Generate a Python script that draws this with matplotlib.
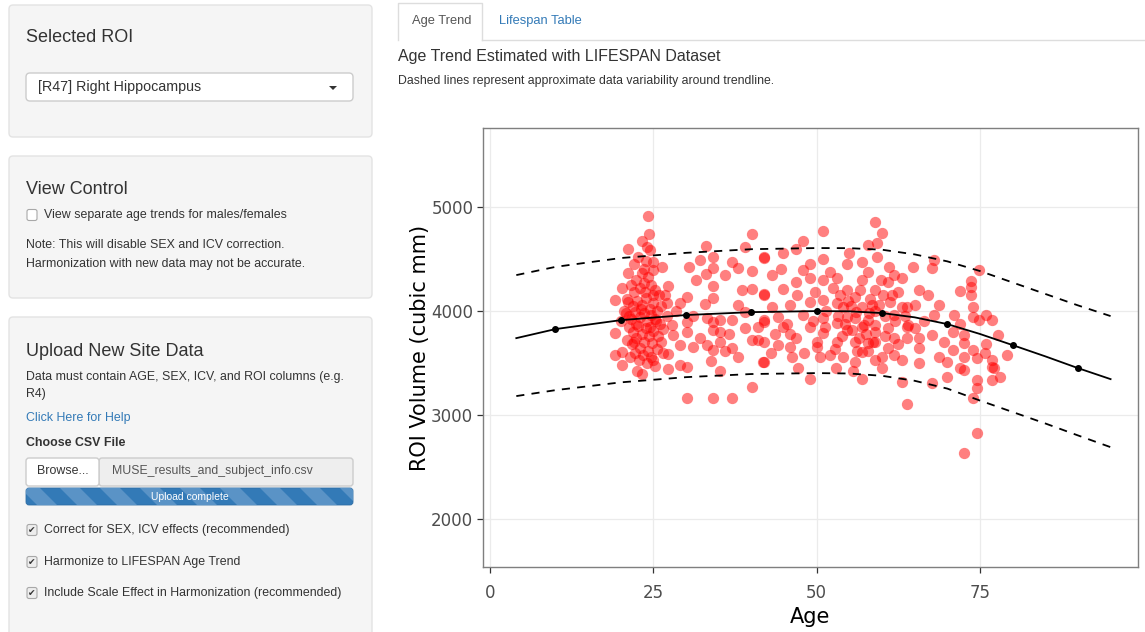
import matplotlib
matplotlib.use('Agg')
import matplotlib.pyplot as plt
from matplotlib.patches import FancyBboxPatch, Polygon

# --- data ---
# scatter: age / ROI volume, split by age band
age_20s = [24.2, 24.3, 23.2, 21.1, 24.5, 24.9, 21.1, 23.2, 20.2, 19.1, 21.1, 19.1, 19.1, 20.2, 20.2,
           23.2, 24.9, 25.0, 26.3,
           21.5, 22.0, 22.4, 23.0, 23.6, 24.1, 24.6, 25.2, 25.8,
           21.0, 21.8, 22.5, 23.3, 23.9, 24.4, 25.0, 25.6, 26.2,
           20.8, 21.6, 22.2, 22.9, 23.5, 24.0, 24.7, 25.3, 26.0,
           21.2, 21.9, 22.6, 23.2, 23.8, 24.3, 25.0, 25.7,
           20.9, 21.7, 22.3, 23.0, 23.6, 24.2, 24.8, 25.5, 26.1,
           21.4, 22.1, 22.8, 23.4, 24.0, 24.6, 25.2,
           22.0, 22.7, 23.8, 24.0, 23.5, 20.5, 20.0, 26.5, 27.0, 22.5,
           23.1, 24.5, 22.4, 25.4, 21.3, 23.7, 24.9, 22.0]
vol_20s = [4913, 4740, 4673, 4596, 4587, 4471, 4365, 4365, 4221, 4106, 4087, 3788, 3577, 3606, 3481,
           3394, 3529, 4394, 4423,
           4250, 4180, 4300, 4220, 4270, 4330, 4250, 4200, 4150,
           4120, 4050, 4100, 4060, 4130, 4020, 4080, 4000, 4050,
           3980, 3920, 3990, 3940, 3980, 3900, 3960, 3920, 3880,
           3850, 3800, 3860, 3780, 3840, 3760, 3810, 3760,
           3720, 3680, 3740, 3650, 3700, 3620, 3690, 3640, 3700,
           3560, 3600, 3530, 3580, 3500, 3560, 3470,
           4450, 4520, 4480, 4620, 4400, 4000, 3900, 3600, 3950, 3420,
           4020, 3850, 3880, 3900, 3950, 4180, 4150, 3700]

age_30s = [40.1, 33.0, 39.0, 32.1, 34.1, 37.0, 34.1, 33.0, 40.1, 42.0, 37.9, 27.2, 30.1, 34.1, 34.1,
           29.1, 27.1, 32.9, 37.9, 40.1, 42.0, 39.0, 30.1, 33.2, 34.1, 35.2, 37.0, 42.0, 41.0, 26.5,
           30.1, 32.1, 34.1, 35.2, 39.0, 28.0, 29.1, 31.0, 33.2, 35.2, 34.1, 35.9, 37.0, 40.1, 41.0,
           41.7, 30.1, 27.2, 27.2, 35.2, 40.1, 30.1, 34.1, 37.0,
           28.5, 31.5, 36.0, 38.5, 29.0, 31.0, 36.5, 38.0, 33.8, 30.5, 26.8, 27.8]
vol_30s = [4740, 4625, 4615, 4490, 4519, 4471, 4413, 4356, 4385, 4519, 4413, 4240, 4135, 4240, 4125,
           4077, 4077, 4067, 4058, 4212, 4154, 3990, 3894, 3933, 3894, 3913, 3913, 3894, 3846, 3827,
           3798, 3740, 3817, 3798, 3837, 3769, 3673, 3654, 3673, 3702, 3625, 3615, 3644, 3721, 3721,
           3510, 3462, 3587, 3442, 3423, 3269, 3163, 3163, 3163,
           4000, 4300, 4350, 4200, 3480, 3950, 3780, 3560, 3520, 4420, 4150, 3870]

age_50s = [58.9, 50.9, 47.9, 46.9, 44.8, 57.8, 50.9, 54.7, 42.0, 43.1, 47.9, 52.0, 53.1, 56.9, 57.8,
           48.9, 46.9, 44.8, 49.7, 42.0, 54.7, 55.8, 58.9, 43.1, 45.9, 48.9, 50.9, 53.1, 54.0, 56.9,
           58.4, 44.0, 47.9, 50.9, 54.7, 55.8, 57.8, 42.0, 44.8, 48.9, 53.1, 56.9, 45.9, 50.9, 54.7,
           58.9, 44.0, 46.9, 50.0, 53.1, 55.8, 57.8, 42.0, 45.9, 50.0, 52.0, 54.0, 55.8, 56.9, 58.9,
           42.0, 48.9, 56.9,
           52.5, 51.5, 49.5, 47.0, 45.5, 53.8, 55.2, 56.2, 57.5, 58.2, 52.8, 51.2, 46.2, 43.6, 49.0,
           55.0, 57.0, 59.0, 58.0, 56.5, 54.3, 53.5, 51.0, 48.0, 44.5, 43.0, 47.2, 55.5, 53.0, 50.5,
           56.0, 57.3, 55.4, 58.6, 54.8, 56.7, 57.9, 53.3]
vol_50s = [4856, 4769, 4673, 4596, 4558, 4635, 4500, 4452, 4510, 4346, 4394, 4375, 4317, 4298, 4375,
           4317, 4279, 4212, 4183, 4163, 4202, 4135, 4202, 4038, 4058, 4087, 4106, 4077, 4038, 4038,
           4058, 3942, 3962, 3933, 3942, 3933, 3913, 3913, 3846, 3846, 3885, 3846, 3779, 3788, 3817,
           3798, 3673, 3740, 3702, 3702, 3702, 3692, 3702, 3654, 3654, 3577, 3558, 3510, 3606, 3529,
           3510, 3346, 3346,
           4220, 4000, 3900, 4150, 3880, 3760, 4050, 3620, 3780, 4120, 3640, 3850, 3560, 3780, 4450,
           4560, 4470, 4000, 3980, 3740, 3880, 4150, 4300, 3600, 4400, 3600, 3450, 3420, 3450, 3560,
           3990, 3870, 3820, 3700, 4100, 4200, 3620, 3950]

age_70s = [60.0, 59.2, 59.3, 68.0, 67.7, 64.8, 74.9, 73.7, 73.7, 71.9, 65.7, 73.7, 60.9, 61.9, 63.0,
           60.1, 61.2, 63.0, 63.9, 65.0, 68.8, 68.0, 73.9, 73.9, 74.9, 76.8, 76.0, 59.0, 60.9, 63.9,
           65.0, 67.7, 70.8, 72.6, 77.7, 59.0, 61.9, 63.9, 65.7, 72.6, 79.2, 60.9, 65.7, 70.8, 73.9,
           61.9, 75.7, 68.8, 72.6, 63.0, 65.7, 69.9, 74.6, 76.9, 76.9, 60.0, 71.9, 72.6, 78.0, 76.8,
           74.6, 69.9, 63.0, 67.7, 74.6, 73.9, 63.9, 74.6, 72.6,
           60.5, 61.5, 62.0, 60.0, 61.0, 62.5, 63.5, 59.8, 64.0, 66.5, 67.0, 69.5, 71.0, 72.0, 76.0, 77.2,
           60.4, 61.8, 59.6, 62.4]
vol_70s = [4750, 4654, 4519, 4490, 4413, 4423, 4394, 4288, 4231, 4192, 4202, 4154, 4279, 4346, 4317,
           4154, 4087, 4038, 4038, 4058, 4058, 3962, 4038, 3942, 3913, 3913, 3962, 3865, 3837, 3846,
           3837, 3769, 3798, 3769, 3769, 3702, 3740, 3740, 3740, 3692, 3577, 3644, 3644, 3625, 3625,
           3577, 3596, 3558, 3558, 3529, 3500, 3510, 3548, 3529, 3462, 3452, 3452, 3433, 3365, 3337,
           3337, 3365, 3317, 3308, 3260, 3163, 3106, 2827, 2635,
           3950, 4150, 3900, 3560, 4420, 3680, 3950, 4300, 3870, 3900, 4150, 3700, 3960, 3880, 3680, 3450,
           3760, 3960, 4060, 4180]

# LIFESPAN trend and variability band
trend_age = [4, 10, 20, 30, 40, 50, 55, 60, 65, 70, 75, 80, 85, 90, 95]
trend_vol = [3740, 3827, 3913, 3962, 3990, 4000, 3998, 3981, 3940, 3875, 3780, 3673, 3565, 3452, 3346]
upper_vol = [4346, 4425, 4510, 4560, 4595, 4606, 4605, 4590, 4545, 4478, 4385, 4275, 4165, 4055, 3952]
lower_vol = [3183, 3240, 3315, 3365, 3395, 3404, 3400, 3378, 3330, 3255, 3140, 3030, 2920, 2805, 2692]
knot_age = [10, 20, 30, 40, 50, 60, 70, 80, 90]
knot_vol = [3827, 3913, 3962, 3990, 4000, 3981, 3875, 3673, 3452]

x_ticks = [0, 25, 50, 75]
y_ticks = [2000, 3000, 4000, 5000]

W, H = 1145, 632
ui_font = ['Liberation Sans', 'DejaVu Sans']
txt_col = '#333333'
link_col = '#337AB7'

fig = plt.figure(figsize=(W / 100, H / 100), dpi=100)
fig.patch.set_facecolor('white')

# pixel space overlay for the shiny page around the plot
ui = fig.add_axes([0, 0, 1, 1])
ui.set_xlim(0, W)
ui.set_ylim(H, 0)
ui.axis('off')


def panel(x0, y0, x1, y1, fc='#F5F5F5', ec='#E3E3E3', r=4, lw=1.0, **kw):
    p = FancyBboxPatch((x0, y0), x1 - x0, y1 - y0, boxstyle='round,pad=0,rounding_size=%d' % r,
                       fc=fc, ec=ec, lw=lw, **kw)
    ui.add_patch(p)
    return p


def label(x, y, s, size=8.9, color=txt_col, **kw):
    ui.text(x, y, s, fontsize=size, color=color, family=ui_font, va='center', ha=kw.pop('ha', 'left'), **kw)


def checkbox(x, y, checked):
    panel(x, y - 5.5, x + 10, y + 5.5, fc='#EDEDED' if checked else 'white', ec='#A8A8A8', r=2, lw=0.8)
    if checked:
        ui.text(x + 5, y + 0.5, '\u2714', fontsize=6.5, color='#333333', ha='center', va='center',
                family='DejaVu Sans')


# panel 1 - ROI selection
panel(9, 5, 372, 137)
label(26, 38, 'Selected ROI', size=13)
panel(26, 73, 353, 101, fc='white', ec='#CCCCCC')
label(38, 87, '[R47] Right Hippocampus', size=10.3)
ui.add_patch(Polygon([[329, 86], [337, 86], [333, 90]], closed=True, fc='#333333', ec='none'))

# panel 2 - view control
panel(9, 156, 372, 298)
label(26, 190, 'View Control', size=13)
checkbox(27, 215, False)
label(44, 215, 'View separate age trends for males/females')
label(26, 245, 'Note: This will disable SEX and ICV correction.')
label(26, 264, 'Harmonization with new data may not be accurate.')

# panel 3 - upload
panel(9, 317, 372, 650)
label(26, 352, 'Upload New Site Data', size=13)
label(26, 377, 'Data must contain AGE, SEX, ICV, and ROI columns (e.g.')
label(26, 394, 'R4)')
label(26, 418, 'Click Here for Help', color=link_col)
label(26, 443, 'Choose CSV File', fontweight='bold')
panel(99, 458, 353, 486, fc='#EEEEEE', ec='#CCCCCC', r=3)
panel(26, 458, 99, 486, fc='white', ec='#CCCCCC', r=3)
label(62.5, 471, 'Browse...', ha='center')
label(112, 471, 'MUSE_results_and_subject_info.csv', size=8.8, color='#555555')
bar = panel(26, 488, 353, 505, fc='#337AB7', ec='#2E6DA4', r=3, lw=0.6)
for sx in range(-20, 360, 40):
    st = Polygon([[sx, 488], [sx + 20, 488], [sx + 37, 505], [sx + 17, 505]], closed=True,
                 fc='#5A93C6', ec='none')
    ui.add_patch(st)
    st.set_clip_path(bar)
label(190, 496.5, 'Upload complete', size=7.5, color='white', ha='center')
for cy, s in [(530, 'Correct for SEX, ICV effects (recommended)'),
              (562, 'Harmonize to LIFESPAN Age Trend'),
              (593, 'Include Scale Effect in Harmonization (recommended)')]:
    checkbox(27, cy, True)
    label(44, cy, s)

# tabs + headings
ui.plot([398, 398, 482, 482], [40, 3, 3, 40], color='#DDDDDD', lw=1)
ui.plot([482, W], [40, 40], color='#DDDDDD', lw=1)
label(412, 21, 'Age Trend', size=9.3, color='#555555')
label(499, 21, 'Lifespan Table', size=9.3, color=link_col)
label(398, 57, 'Age Trend Estimated with LIFESPAN Dataset', size=11.5)
label(398, 81, 'Dashed lines represent approximate data variability around trendline.', size=8.8)

# --- the ggplot style chart ---
ax = fig.add_axes([483 / W, 1 - 567 / H, 655 / W, 439 / H])
ax.set_facecolor('white')

ages = age_20s + age_30s + age_50s + age_70s
vols = vol_20s + vol_30s + vol_50s + vol_70s
ax.scatter(ages, vols, s=66, color='red', alpha=0.5, linewidths=0, zorder=2)

ax.plot(trend_age, trend_vol, color='black', lw=1.3, zorder=3)
ax.plot(trend_age, upper_vol, color='black', lw=1.3, ls=(0, (4.5, 4)), zorder=3)
ax.plot(trend_age, lower_vol, color='black', lw=1.3, ls=(0, (4.5, 4)), zorder=3)
ax.scatter(knot_age, knot_vol, s=16, color='black', zorder=4)

ax.set_xlim(-1.1, 99.2)
ax.set_ylim(1540, 5760)
ax.set_xticks(x_ticks)
ax.set_yticks(y_ticks)
ax.grid(True, color='#EBEBEB', lw=0.9, zorder=0)
ax.set_axisbelow(True)
for sp in ax.spines.values():
    sp.set_color('#7F7F7F')
    sp.set_linewidth(1.0)
ax.tick_params(direction='out', length=4, width=0.9, color='#333333', labelcolor='#4D4D4D',
               labelsize=12)
ax.tick_params(axis='x', pad=8)
ax.tick_params(axis='y', pad=3)
ax.set_xlabel('Age', fontsize=15, color='black', labelpad=4)
ax.set_ylabel('ROI Volume (cubic mm)', fontsize=15, color='black', labelpad=1)

fig.savefig('out.png', dpi=100)
